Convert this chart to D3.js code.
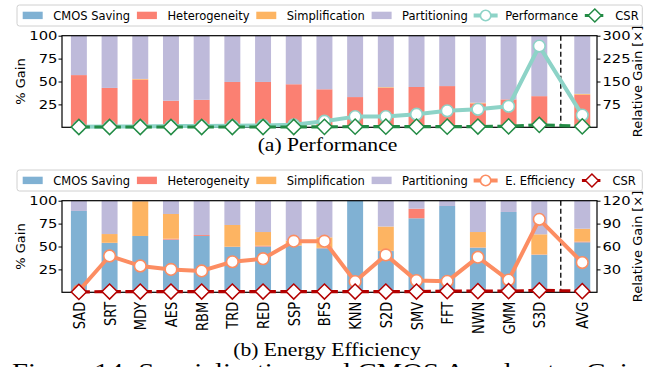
<!DOCTYPE html>
<html><head><meta charset="utf-8">
<script src="https://cdn.jsdelivr.net/npm/d3@7"></script>
<style>body{margin:0;background:#fff;} svg{display:block;}</style>
</head><body>
<svg id="chart" width="657" height="367"></svg>
<script>
// ---------------- DATA ----------------
const categories = ["SAD","SRT","MDY","AES","RBM","TRD","RED","SSP","BFS","KNN","S2D","SMV","FFT","NWN","GMM","S3D","AVG"];
const seriesNames = ["CMOS Saving","Heterogeneity","Simplification","Partitioning"];

// (a) Performance – stacked % gain
const perfCmos   = [0,0,0,0,0,0,0,0,0,0,0,0,0,0,0,0,0];
const perfHetero = [57,43,52,29,30,49.5,49.5,47,41.5,33,43,44,45,26,30.5,34,35.5];
const perfSimpl  = [0,0,0.8,0,0,0,0,0,0,0,0.8,0,0,0.8,0,0,1];
const perfPart   = [43,57,47.2,71,70,50.5,50.5,53,58.5,67,56.2,56,55,73.2,69.5,66,63.5];
// (a) relative gain lines
const performance = [2,3,3,4,4,5,6,8,20,35,35,43,54,59,69,266,40];
const perfCSR     = [1,1,1,1,1,1,1,1,1.5,2,2,2,2,2.5,3,8,3];

// (b) Energy efficiency – stacked % gain
const enCmos   = [88.8,53.8,61.5,57.5,61.5,49.5,50,51,48,100,45,80.8,94.2,48.7,87.7,41,54.6];
const enHetero = [0,0.3,0,1,1,0.3,0.8,0.3,0.5,0,0.3,10.5,0,0.3,0,0.3,0.8];
const enSimpl  = [0,9.5,38,27,0,23.7,15,5,11.5,0,26.5,0,0,16.8,0,22,14];
const enPart   = [11.2,36.4,0.5,14.5,37.5,26.5,34.2,43.7,40,0,28.2,8.7,5.8,34.2,12.3,36.7,30.6];
// (b) relative gain lines
const energy = [2,47.6,34.5,30,28,40,44,67,67,14,49,15.3,14.4,46,16,95.6,39];
const enCSR  = [0.5,1,1,1,1,1,1,1,1,1,1,1,1.5,1.5,1.5,2.5,1.5];

const leftTicks = [25,50,75,100];
const perfRightTicks = [75,150,225,300];
const enRightTicks = [30,60,90,120];

// ---------------- STYLE / LAYOUT ----------------
const FONT = "'DejaVu Sans', sans-serif";
const SERIF = "'Liberation Serif', 'Times New Roman', serif";
const TSX = 1.18;   // horizontal stretch of tick text
const colors = {cmos:"#80b1d3", het:"#fb8072", simp:"#fdb462", part:"#bebada"};
const keys = ["cmos","het","simp","part"];
const avgGap = 0.4;
const xPos = categories.map((c,i)=> c === "AVG" ? i + avgGap : i);

const svg = d3.select("#chart");
svg.append("rect").attr("width",657).attr("height",367).attr("fill","#fff");

const x = d3.scaleLinear().domain([-0.55, 16.88]).range([62, 597]);
const barW = x(0.52) - x(0);

function diamondPath(cx, cy, r){
  return `M${cx},${cy-r}L${cx+r},${cy}L${cx},${cy+r}L${cx-r},${cy}Z`;
}

function panel(cfg){
  const {top, bottom, stacks, line, csr, lineColor, csrColor, rMax, rTicks, lineName, showX, legendTop} = cfg;
  const yL = d3.scaleLinear().domain([0,100]).range([bottom, top]);
  const yR = d3.scaleLinear().domain([0,rMax]).range([bottom, top]);
  const g = svg.append("g");

  const rows = categories.map((c,i)=>({cat:c, pos:xPos[i], cmos:stacks[0][i], het:stacks[1][i], simp:stacks[2][i], part:stacks[3][i]}));
  const stacked = d3.stack().keys(keys)(rows);
  g.selectAll("g.layer").data(stacked).join("g").attr("class","layer")
    .attr("fill", d=>colors[d.key])
    .selectAll("rect").data(d=>d).join("rect")
    .attr("x", d=>x(d.data.pos)-barW/2).attr("width", barW)
    .attr("y", d=>yL(d[1])).attr("height", d=>Math.max(0, yL(d[0])-yL(d[1])));

  // separator before AVG
  const sx = (x(xPos[15]) + x(xPos[16])) / 2;
  g.append("line").attr("x1", sx).attr("x2", sx).attr("y1", top).attr("y2", bottom)
    .attr("stroke","#000").attr("stroke-width",1.3).attr("stroke-dasharray","5,3");

  // axes
  const la = g.append("g").attr("transform",`translate(62,0)`)
    .call(d3.axisLeft(yL).tickValues(leftTicks).tickSize(3.5).tickPadding(0));
  la.select(".domain").remove();
  la.selectAll("text").attr("x",0).attr("dy","0.34em")
    .attr("transform",`translate(-4.5,0) scale(${TSX},1)`)
    .style("font-family",FONT).style("font-size","12.5px").attr("fill","#000");

  const ra = g.append("g").attr("transform",`translate(597,0)`)
    .call(d3.axisRight(yR).tickValues(rTicks).tickSize(3.5).tickPadding(0));
  ra.select(".domain").remove();
  ra.selectAll("text").attr("x",0).attr("dy","0.34em")
    .attr("transform",`translate(5.5,0) scale(${TSX},1)`)
    .style("font-family",FONT).style("font-size","12.5px").attr("fill","#000");

  const ba = g.append("g").attr("transform",`translate(0,${bottom})`)
    .call(d3.axisBottom(x).tickValues(xPos).tickSize(3.5).tickFormat((d,i)=> showX ? categories[i] : ""));
  ba.select(".domain").remove();
  ba.selectAll("text").attr("x",0).attr("y",0).attr("dy","0.36em")
    .attr("text-anchor","end")
    .attr("transform",`translate(0,9.5) scale(${TSX},1) rotate(-90)`)
    .style("font-family",FONT).style("font-size","13px").attr("fill","#000");

  // frame
  g.append("rect").attr("x",62).attr("y",top).attr("width",597-62).attr("height",bottom-top)
    .attr("fill","none").attr("stroke","#000").attr("stroke-width",1.2);

  // axis titles
  const cy = (top+bottom)/2;
  g.append("text").attr("transform",`translate(25,${cy}) rotate(-90)`).attr("text-anchor","middle")
    .style("font-family",FONT).style("font-size","13px").text("% Gain");
  g.append("text").attr("transform",`translate(642,${cy}) rotate(-90)`).attr("text-anchor","middle")
    .style("font-family",FONT).style("font-size","13px").text("Relative Gain [×]");

  // main line
  const lg = d3.line().x((d,i)=>x(xPos[i])).y(d=>yR(d));
  g.append("path").datum(line).attr("d",lg).attr("fill","none")
    .attr("stroke",lineColor).attr("stroke-width",4).attr("stroke-linejoin","round");
  g.selectAll("circle.mk").data(line).join("circle").attr("class","mk")
    .attr("cx",(d,i)=>x(xPos[i])).attr("cy",d=>yR(d)).attr("r",5.8)
    .attr("fill","#fff").attr("stroke",lineColor).attr("stroke-width",1.6);

  // CSR line
  g.append("path").datum(csr).attr("d",lg).attr("fill","none")
    .attr("stroke",csrColor).attr("stroke-width",3.2).attr("stroke-dasharray","11,4.5");
  g.selectAll("path.dm").data(csr).join("path").attr("class","dm")
    .attr("d",(d,i)=>diamondPath(x(xPos[i]), yR(d), 7.6))
    .attr("fill","#fff").attr("stroke",csrColor).attr("stroke-width",1.5);

  // legend
  const L = svg.append("g");
  L.append("rect").attr("x",17).attr("y",legendTop).attr("width",642.3-17).attr("height",21)
    .attr("rx",2.5).attr("fill","#fff").attr("stroke","#d0d0d0").attr("stroke-width",1);
  const items = seriesNames.map((n,i)=>({name:n, type:"rect", color:colors[keys[i]]}))
    .concat([{name:lineName, type:"line", color:lineColor},{name:"CSR", type:"csr", color:csrColor}]);
  let cx = 22.7;
  const mid = legendTop + 10.5;
  items.forEach(it=>{
    if(it.type==="rect"){
      L.append("rect").attr("x",cx).attr("y",mid-3.8).attr("width",20).attr("height",7.4).attr("fill",it.color);
    } else if(it.type==="line"){
      L.append("line").attr("x1",cx-1).attr("x2",cx+23).attr("y1",mid).attr("y2",mid)
        .attr("stroke",it.color).attr("stroke-width",4);
      L.append("circle").attr("cx",cx+11).attr("cy",mid).attr("r",5.2)
        .attr("fill","#fff").attr("stroke",it.color).attr("stroke-width",1.6);
    } else {
      L.append("line").attr("x1",cx).attr("x2",cx+21).attr("y1",mid).attr("y2",mid)
        .attr("stroke",it.color).attr("stroke-width",3.2).attr("stroke-dasharray","7,4.5");
      L.append("path").attr("d",diamondPath(cx+10,mid,6.5))
        .attr("fill","#fff").attr("stroke",it.color).attr("stroke-width",1.5);
    }
    const t = L.append("text").attr("x",cx+30.5).attr("y",mid+4.1)
      .style("font-family",FONT).style("font-size","11.5px").attr("fill","#000").text(it.name);
    cx = cx + 30.5 + t.node().getComputedTextLength() + 6.8;
  });
}

panel({top:35.7, bottom:127.3, stacks:[perfCmos,perfHetero,perfSimpl,perfPart],
  line:performance, csr:perfCSR, lineColor:"#8dd3c7", csrColor:"#238b45",
  rMax:300, rTicks:perfRightTicks, lineName:"Performance", showX:false, legendTop:5});
panel({top:200.7, bottom:292.3, stacks:[enCmos,enHetero,enSimpl,enPart],
  line:energy, csr:enCSR, lineColor:"#fc8d62", csrColor:"#b30000",
  rMax:120, rTicks:enRightTicks, lineName:"E. Efficiency", showX:true, legendTop:170});

// captions
function caption(txt, xx, yy, size, anchor){
  svg.append("text").attr("transform",`translate(${xx},${yy}) scale(1.2,1)`)
    .attr("text-anchor",anchor).style("font-family",SERIF).style("font-size",size+"px")
    .attr("fill","#000").text(txt);
}
caption("(a) Performance", 327.5, 151, 18, "middle");
caption("(b) Energy Efficiency", 327, 356, 18, "middle");
caption("Figure 14: Specialization and CMOS Accelerator Gains", 12, 378.5, 24, "start");
</script>
</body></html>
